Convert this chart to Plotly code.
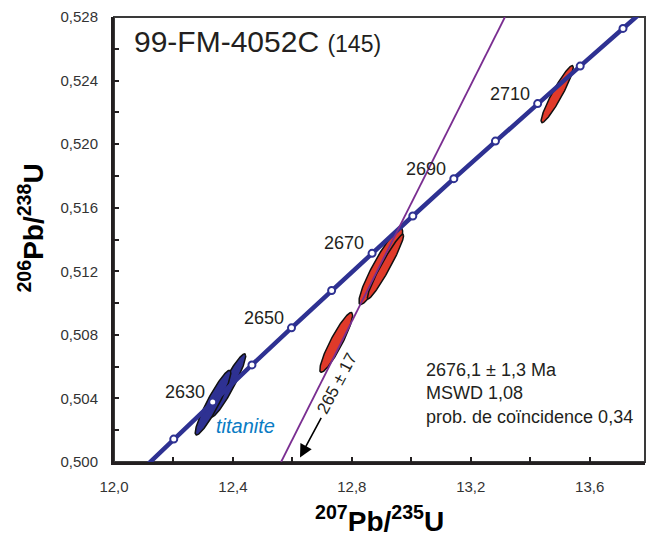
import numpy as np
import plotly.graph_objects as go

# Concordia points (age in Ma, 207Pb/235U, 206Pb/238U)
concordia_age = [2610, 2620, 2630, 2640, 2650, 2660, 2670, 2680, 2690, 2700, 2710, 2720, 2730, 2740]
concordia_x = [12.072, 12.201, 12.332, 12.464, 12.597, 12.732, 12.868, 13.005, 13.143, 13.283, 13.425, 13.568, 13.712, 13.857]
concordia_y = [0.49911, 0.50144, 0.50377, 0.50611, 0.50844, 0.51079, 0.51313, 0.51548, 0.51783, 0.52019, 0.52255, 0.52491, 0.52728, 0.52965]
label_ages = [2630, 2650, 2670, 2690, 2710]

# Discordia line (lower intercept 265 Ma, upper 2676.1 Ma)
discordia_x = [12.562, 13.315]
discordia_y = [0.500, 0.528]

# Analyses: centre, 2-sigma half extents, correlation
ell_x = [12.3845, 12.3330, 12.7474, 12.8974, 12.9132, 13.4907]
ell_y = [0.504824, 0.503732, 0.507526, 0.51231, 0.51230, 0.52315]
ell_sx = [0.0584, 0.0599, 0.0551, 0.0736, 0.0610, 0.0542]
ell_sy = [0.001984, 0.002037, 0.001882, 0.002399, 0.002032, 0.001795]
ell_rho = [0.934, 0.926, 0.912, 0.921, 0.9595, 0.937]
ell_mineral = ["titanite", "titanite", "zircon", "zircon", "zircon", "zircon"]

BLUE = "#2E3192"
RED = "#E03A2A"
PURPLE = "#7A2E91"
INK = "#231F20"

fig = go.Figure()

t = np.linspace(0, 2 * np.pi, 161)
for cx, cy, sx, sy, r, m in zip(ell_x, ell_y, ell_sx, ell_sy, ell_rho, ell_mineral):
    ex = cx + sx * np.cos(t)
    ey = cy + sy * (r * np.cos(t) + np.sqrt(1 - r * r) * np.sin(t))
    fig.add_trace(go.Scatter(x=ex, y=ey, mode="lines", fill="toself",
                             fillcolor=BLUE if m == "titanite" else RED,
                             line=dict(color="#111111", width=1.5),
                             hoverinfo="skip", showlegend=False))

fig.add_trace(go.Scatter(x=concordia_x, y=concordia_y, mode="lines+markers",
                         line=dict(color=BLUE, width=4.5),
                         marker=dict(size=7, color="white", line=dict(color=BLUE, width=2)),
                         showlegend=False))

fig.add_trace(go.Scatter(x=discordia_x, y=discordia_y, mode="lines",
                         line=dict(color=PURPLE, width=1.8), showlegend=False))

annotations = []
for a in label_ages:
    i = concordia_age.index(a)
    annotations.append(dict(x=concordia_x[i], y=concordia_y[i], text=str(a), showarrow=False,
                            xanchor="right", yanchor="middle", xshift=-6, yshift=10,
                            font=dict(size=18, color=INK)))

annotations += [
    dict(x=12.0595, y=0.52648, xanchor="left", yanchor="middle", showarrow=False,
         text="99-FM-4052C <span style='font-size:23px'>(145)</span>",
         font=dict(size=30, color=INK)),
    dict(x=13.0437, y=0.504293, xanchor="left", yanchor="middle", showarrow=False, align="left",
         text="2676,1 ± 1,3 Ma<br>MSWD 1,08<br>prob. de coïncidence 0,34",
         font=dict(size=18, color=INK)),
    dict(x=12.3364, y=0.502284, xanchor="left", yanchor="middle", showarrow=False,
         text="<i>titanite</i>", font=dict(size=20, color="#0A7CC4")),
    dict(x=12.750, y=0.504948, showarrow=False, text="265 ± 17", textangle=-62,
         font=dict(size=17, color=INK)),
    dict(x=12.6256, y=0.50029, ax=22, ay=-41, text="", showarrow=True,
         arrowhead=2, arrowsize=1.6, arrowwidth=1.6, arrowcolor="#000000", standoff=0),
    dict(x=0.5, y=-0.127, xref="paper", yref="paper", showarrow=False,
         xanchor="center", yanchor="middle",
         text="<b><sup>207</sup>Pb/<sup>235</sup>U</b>", font=dict(size=28, color="#000000")),
    dict(x=-0.156, y=0.525, xref="paper", yref="paper", showarrow=False, textangle=-90,
         xanchor="center", yanchor="middle",
         text="<b><sup>206</sup>Pb/<sup>238</sup>U</b>", font=dict(size=28, color="#000000")),
]

fig.update_layout(
    width=653, height=542,
    margin=dict(l=114, r=8, t=14, b=80),
    paper_bgcolor="white", plot_bgcolor="white",
    separators=", ",
    font=dict(family="Liberation Sans, Arial, sans-serif", color=INK),
    annotations=annotations,
    shapes=[dict(type="rect", xref="paper", yref="paper", x0=0, x1=1, y0=0, y1=1,
                 line=dict(color="#3A3A3A", width=2), layer="below")],
    xaxis=dict(range=[12.0, 13.786], tickmode="array", tickvals=[12.0, 12.4, 12.8, 13.2, 13.6],
               tickformat=".1f", ticks="inside", ticklen=5, tickwidth=2, tickcolor=INK,
               minor=dict(tickvals=[12.2, 12.6, 13.0, 13.4], ticks="inside", ticklen=5,
                          tickwidth=2, tickcolor=INK),
               showline=True, linecolor=INK, linewidth=3, showgrid=False, zeroline=False,
               tickfont=dict(size=15, color="#333333"), ticklabelstandoff=9),
    yaxis=dict(range=[0.500, 0.528], tickmode="array",
               tickvals=[0.500, 0.504, 0.508, 0.512, 0.516, 0.520, 0.524, 0.528],
               tickformat=".3f", ticks="inside", ticklen=5, tickwidth=2, tickcolor=INK,
               minor=dict(tickvals=[0.502, 0.506, 0.510, 0.514, 0.518, 0.522, 0.526],
                          ticks="inside", ticklen=5, tickwidth=2, tickcolor=INK),
               showline=True, linecolor=INK, linewidth=3, showgrid=False, zeroline=False,
               tickfont=dict(size=15, color="#333333"), ticklabelstandoff=10),
)

fig.write_html("out.html", config={"displayModeBar": False},
               post_script="document.body.style.margin='0';")
